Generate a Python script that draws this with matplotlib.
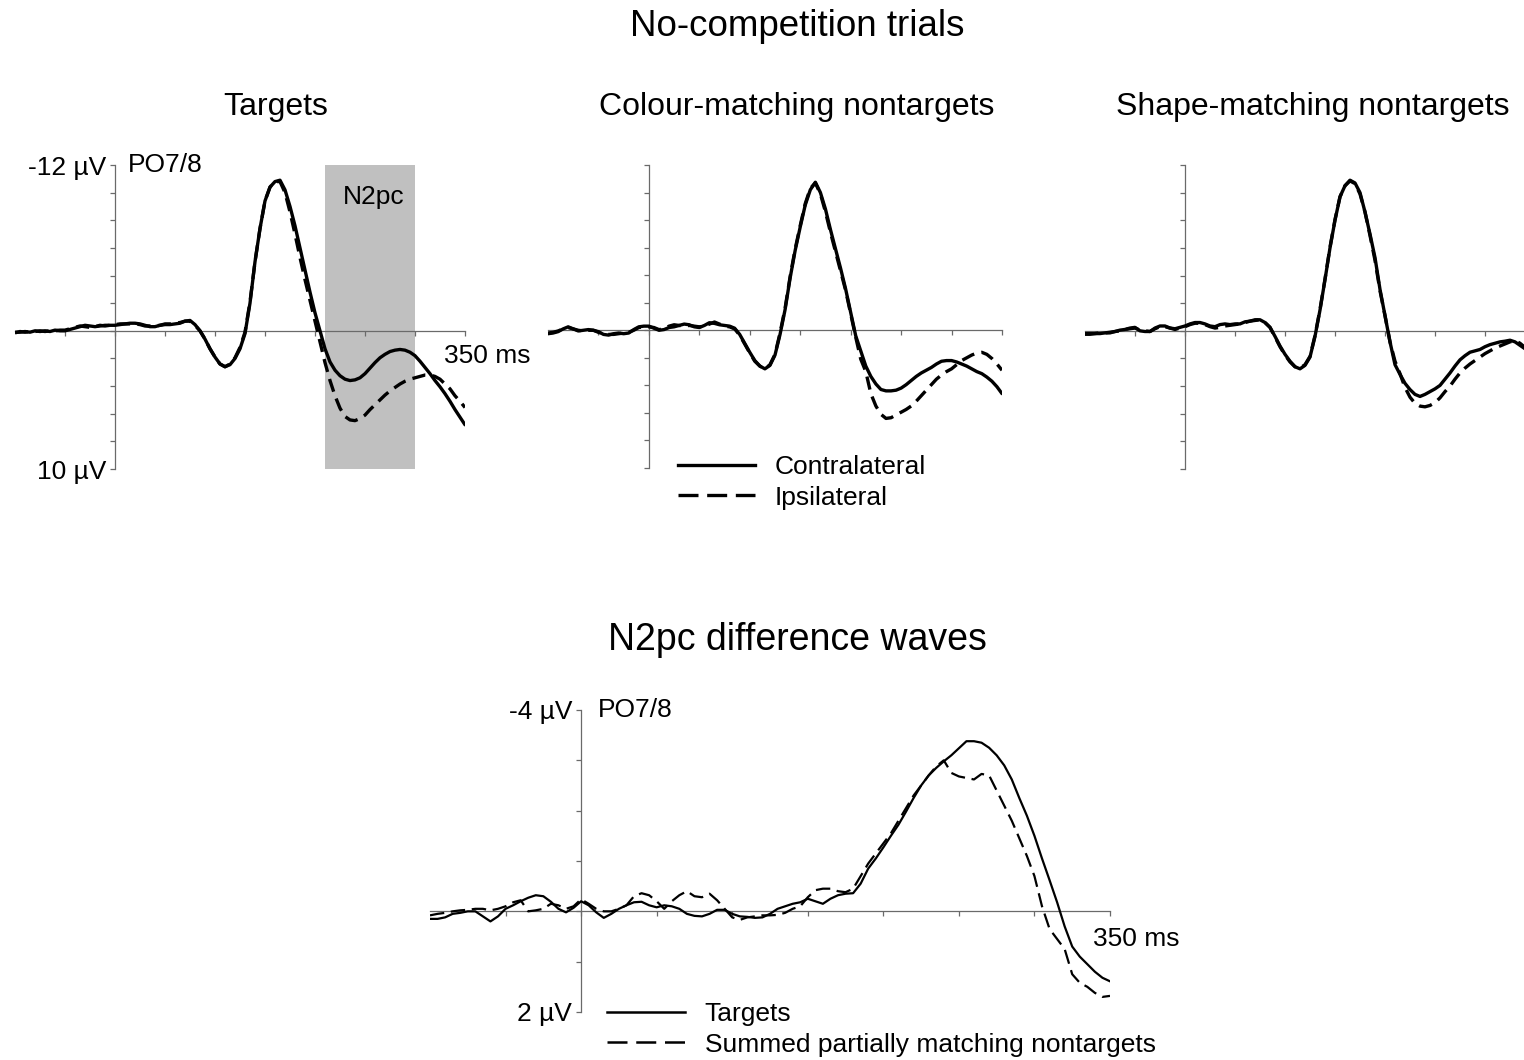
import numpy as np
import matplotlib
matplotlib.use("Agg")
import matplotlib.pyplot as plt
from matplotlib.lines import Line2D

# sampling grid shared by every waveform (ms, 5 ms steps)
TIME_MS = np.arange(-100, 351, 5)

# --- No-competition trials, PO7/8 (µV, negative up) ---
TARGETS_CONTRA = [
    0.1, 0.1, 0.05, 0.1, 0.0, 0.05, 0.0, 0.05, -0.05, 0.0,
    0.0, -0.1, -0.2, -0.3, -0.4, -0.35, -0.3, -0.35, -0.4, -0.4,
    -0.4, -0.45, -0.5, -0.55, -0.55, -0.5, -0.4, -0.3, -0.3, -0.4,
    -0.45, -0.45, -0.5, -0.55, -0.7, -0.75, -0.45, 0.0, 0.6, 1.3,
    1.9, 2.4, 2.6, 2.45, 2.0, 1.3, 0.2, -2.0, -5.0, -7.4,
    -9.4, -10.4, -10.8, -10.9, -10.2, -9.0, -7.6, -6.0, -4.4, -2.8,
    -1.3, 0.0, 1.3, 2.25, 2.85, 3.25, 3.5, 3.6, 3.55, 3.4,
    3.1, 2.7, 2.3, 1.95, 1.7, 1.5, 1.4, 1.35, 1.4, 1.55,
    1.8, 2.2, 2.65, 3.1, 3.6, 4.05, 4.55, 5.1, 5.7, 6.25,
    6.8,
]
TARGETS_IPSI = [
    0.15, 0.05, 0.1, 0.05, 0.05, 0.0, 0.05, 0.0, 0.0, -0.05,
    -0.05, -0.15, -0.25, -0.35, -0.3, -0.25, -0.3, -0.4, -0.35, -0.4,
    -0.45, -0.5, -0.5, -0.5, -0.5, -0.45, -0.35, -0.35, -0.35, -0.4,
    -0.5, -0.5, -0.55, -0.6, -0.7, -0.7, -0.4, 0.0, 0.6, 1.3,
    1.9, 2.4, 2.6, 2.4, 1.95, 1.2, 0.1, -2.1, -5.0, -7.4,
    -9.4, -10.4, -10.8, -10.8, -10.0, -8.6, -7.0, -5.3, -3.7, -2.2,
    -0.7, 0.8, 2.3, 3.6, 4.7, 5.6, 6.2, 6.45, 6.5, 6.35,
    6.1, 5.7, 5.35, 5.0, 4.65, 4.35, 4.1, 3.85, 3.65, 3.5,
    3.4, 3.3, 3.2, 3.2, 3.3, 3.5, 3.85, 4.2, 4.7, 5.1,
    5.55,
]
COLOUR_CONTRA = [
    0.25, 0.2, 0.1, -0.1, -0.25, -0.1, 0.05, 0.0, -0.05, 0.0,
    0.1, 0.3, 0.35, 0.25, 0.2, 0.25, 0.2, -0.05, -0.25, -0.3,
    -0.3, -0.15, 0.0, -0.05, -0.2, -0.25, -0.35, -0.45, -0.4, -0.25,
    -0.2, -0.35, -0.55, -0.5, -0.4, -0.35, -0.3, -0.15, 0.3, 0.95,
    1.6, 2.2, 2.6, 2.8, 2.55, 1.8, 0.3, -1.5, -3.8, -5.8,
    -7.5, -9.1, -10.2, -10.75, -10.0, -8.8, -7.3, -5.9, -4.5, -3.0,
    -1.3, 0.4, 1.5, 2.6, 3.35, 3.9, 4.3, 4.4, 4.4, 4.35,
    4.2, 3.95, 3.65, 3.35, 3.1, 2.9, 2.7, 2.45, 2.25, 2.2,
    2.2, 2.3, 2.45, 2.6, 2.8, 3.0, 3.15, 3.4, 3.7, 4.1,
    4.6,
]
COLOUR_IPSI = [
    0.2, 0.15, 0.05, -0.1, -0.2, -0.1, 0.0, 0.05, 0.0, 0.0,
    0.15, 0.25, 0.3, 0.3, 0.25, 0.2, 0.15, 0.0, -0.2, -0.25,
    -0.25, -0.2, -0.05, -0.1, -0.3, -0.4, -0.35, -0.3, -0.35, -0.3,
    -0.25, -0.3, -0.45, -0.6, -0.45, -0.3, -0.25, -0.1, 0.35, 1.0,
    1.65, 2.25, 2.6, 2.8, 2.5, 1.75, 0.2, -1.6, -3.9, -5.9,
    -7.6, -9.2, -10.3, -10.7, -9.9, -8.6, -7.1, -5.7, -4.3, -2.9,
    -1.2, 0.5, 2.1, 3.0, 4.6, 5.5, 6.1, 6.4, 6.35, 6.15,
    5.95, 5.75, 5.5, 5.15, 4.75, 4.35, 3.95, 3.55, 3.25, 3.0,
    2.8, 2.5, 2.2, 2.0, 1.8, 1.65, 1.6, 1.75, 2.05, 2.45,
    2.9,
]
SHAPE_CONTRA = [
    0.25, 0.25, 0.2, 0.2, 0.15, 0.15, 0.05, -0.05, -0.1, -0.2,
    -0.25, 0.0, 0.05, 0.05, -0.2, -0.35, -0.35, -0.2, -0.15, -0.25,
    -0.35, -0.5, -0.6, -0.6, -0.5, -0.35, -0.3, -0.45, -0.5, -0.45,
    -0.5, -0.5, -0.65, -0.7, -0.8, -0.8, -0.6, -0.25, 0.4, 1.1,
    1.7, 2.2, 2.6, 2.75, 2.5, 1.9, 0.4, -1.5, -3.7, -6.0,
    -8.0, -9.7, -10.5, -10.9, -10.7, -10.0, -8.6, -7.0, -5.3, -3.0,
    -1.1, 0.8, 2.45, 3.15, 3.8, 4.25, 4.6, 4.75, 4.6, 4.4,
    4.2, 3.95, 3.5, 3.05, 2.55, 2.1, 1.8, 1.55, 1.45, 1.35,
    1.15, 1.0, 0.9, 0.8, 0.75, 0.68, 0.8, 1.05, 1.3, 1.5,
    1.7,
]
SHAPE_IPSI = [
    0.2, 0.2, 0.2, 0.15, 0.15, 0.1, 0.05, 0.0, -0.1, -0.15,
    -0.2, -0.05, 0.0, 0.05, -0.15, -0.3, -0.3, -0.2, -0.1, -0.2,
    -0.3, -0.45, -0.55, -0.55, -0.45, -0.3, -0.2, -0.25, -0.35, -0.4,
    -0.45, -0.5, -0.6, -0.7, -0.75, -0.8, -0.6, -0.25, 0.45, 1.15,
    1.75, 2.25, 2.6, 2.7, 2.45, 1.85, 0.35, -1.55, -3.75, -6.05,
    -8.05, -9.7, -10.5, -10.85, -10.65, -9.9, -8.6, -6.9, -5.1, -2.9,
    -1.1, 0.8, 2.2, 3.1, 4.1, 4.8, 5.25, 5.45, 5.5, 5.4,
    5.2, 4.85, 4.4, 4.0, 3.5, 3.05, 2.7, 2.4, 2.15, 1.9,
    1.65, 1.45, 1.25, 1.1, 0.95, 0.8, 0.7, 0.9, 1.2, 1.5,
    1.7,
]

# --- N2pc difference waves (contra minus ipsi, µV) ---
DIFF_TARGETS = [
    0.15, 0.15, 0.12, 0.05, 0.03, 0.0, 0.0, 0.1, 0.2, 0.1,
    -0.05, -0.12, -0.2, -0.27, -0.32, -0.3, -0.19, -0.05, 0.02, -0.07,
    -0.2, -0.12, 0.02, 0.13, 0.05, -0.05, -0.12, -0.18, -0.19, -0.12,
    -0.08, -0.12, -0.1, -0.05, 0.05, 0.09, 0.1, 0.05, -0.03, -0.03,
    0.05, 0.1, 0.11, 0.13, 0.12, 0.05, -0.05, -0.1, -0.15, -0.18,
    -0.25, -0.2, -0.15, -0.25, -0.32, -0.35, -0.36, -0.55, -0.85, -1.05,
    -1.27, -1.5, -1.72, -1.98, -2.25, -2.5, -2.7, -2.85, -2.98, -3.1,
    -3.24, -3.38, -3.38, -3.35, -3.25, -3.1, -2.9, -2.62, -2.25, -1.9,
    -1.5, -1.05, -0.62, -0.18, 0.3, 0.7, 0.9, 1.05, 1.2, 1.32,
    1.39,
]
DIFF_SUMMED = [
    0.08, 0.05, 0.03, 0.0, -0.02, -0.03, -0.05, -0.05, -0.02, -0.05,
    -0.1, -0.18, -0.22, 0.0, -0.02, -0.05, -0.15, -0.12, -0.05, -0.1,
    -0.24, -0.15, -0.05, 0.0, 0.0, -0.05, -0.12, -0.3, -0.36, -0.32,
    -0.2, -0.05, -0.2, -0.32, -0.4, -0.3, -0.28, -0.35, -0.22, -0.05,
    0.12, 0.17, 0.12, 0.1, 0.08, 0.08, 0.07, 0.03, -0.05, -0.1,
    -0.28, -0.42, -0.45, -0.45, -0.4, -0.38, -0.45, -0.7, -0.95, -1.15,
    -1.35, -1.55, -1.8, -2.05, -2.3, -2.5, -2.7, -2.88, -3.0, -2.75,
    -2.68, -2.65, -2.62, -2.73, -2.7, -2.4, -2.1, -1.8, -1.45, -1.1,
    -0.7, -0.1, 0.35, 0.55, 0.75, 1.25, 1.42, 1.5, 1.62, 1.7,
    1.68,
]

PANEL_TITLES = ["Targets", "Colour-matching nontargets", "Shape-matching nontargets"]
TOP_YTICKS = list(range(-12, 11, 2))
BOTTOM_YTICKS = list(range(-4, 3, 1))
XTICKS = list(range(-50, 351, 50))
N2PC_WINDOW = (210, 300)

W, H = 1524, 1060
AXIS_GREY = "#6a6a6a"
FS = 19


def px_box(left, top, right, bottom):
    # pixel box -> figure fraction [l, b, w, h]
    return [left / W, 1 - bottom / H, (right - left) / W, (bottom - top) / H]


def erp_axes(fig, box, ylim, yticks, ylabels):
    ax = fig.add_axes(px_box(*box))
    ax.set_xlim(-100, 350)
    ax.set_ylim(ylim)
    for side in ("top", "right"):
        ax.spines[side].set_visible(False)
    ax.spines["left"].set_position(("data", 0))
    ax.spines["bottom"].set_position(("data", 0))
    for side in ("left", "bottom"):
        ax.spines[side].set_color(AXIS_GREY)
        ax.spines[side].set_linewidth(0.9)
    ax.set_xticks(XTICKS)
    ax.set_xticklabels([])
    ax.set_yticks(yticks)
    ax.set_yticklabels(ylabels)
    ax.tick_params(direction="out", length=3.5, width=0.9, color=AXIS_GREY,
                   labelsize=FS, pad=3)
    ax.patch.set_visible(False)
    return ax


def main():
    plt.rcParams["font.family"] = ["Liberation Sans", "DejaVu Sans"]
    fig = plt.figure(figsize=(W / 100, H / 100), dpi=100)

    solid = dict(color="black", lw=2.4, solid_capstyle="round")
    dashed = dict(color="black", lw=2.4, linestyle=(0, (4, 2.2)))

    top_boxes = [(15, 165, 465, 469), (548, 165, 1002, 468), (1085, 165, 1535, 469)]
    top_data = [(TARGETS_CONTRA, TARGETS_IPSI),
                (COLOUR_CONTRA, COLOUR_IPSI),
                (SHAPE_CONTRA, SHAPE_IPSI)]
    title_x = [276, 797, 1313]

    axes = []
    for i, (box, (contra, ipsi)) in enumerate(zip(top_boxes, top_data)):
        labels = [""] * len(TOP_YTICKS)
        if i == 0:
            labels[0], labels[-1] = "-12 µV", "10 µV"
        ax = erp_axes(fig, box, (10, -12), TOP_YTICKS, labels)
        ax.plot(TIME_MS, ipsi, **dashed, zorder=3)
        ax.plot(TIME_MS, contra, **solid, zorder=4)
        fig.text(title_x[i] / W, 1 - 107 / H, PANEL_TITLES[i],
                 ha="center", va="center", fontsize=23)
        axes.append(ax)

    # first panel annotations
    ax1 = axes[0]
    ax1.axvspan(*N2PC_WINDOW, color="#c0c0c0", lw=0, zorder=0)
    ax1.annotate("N2pc", xy=(np.mean(N2PC_WINDOW), -12), xytext=(3, -23),
                 textcoords="offset points", ha="center", va="center", fontsize=FS)
    ax1.annotate("PO7/8", xy=(0, -12), xytext=(9, 0), textcoords="offset points",
                 ha="left", va="center", fontsize=FS)
    ax1.annotate("350 ms", xy=(350, 0), xytext=(16, -18), textcoords="offset points",
                 ha="center", va="center", fontsize=FS)

    leg_handles = [Line2D([], [], color="black", lw=2.4),
                   Line2D([], [], color="black", lw=2.4, linestyle=(0, (6, 2.6)))]
    axes[1].legend(leg_handles, ["Contralateral", "Ipsilateral"], loc="upper left",
                   bbox_to_anchor=(678 / W, 1 - 455 / H), bbox_transform=fig.transFigure,
                   frameon=False, fontsize=FS, handlelength=2.9, handletextpad=0.75,
                   labelspacing=0.25, borderpad=0, borderaxespad=0)

    # bottom difference waves
    blabels = [""] * len(BOTTOM_YTICKS)
    blabels[0], blabels[-1] = "-4 µV", "2 µV"
    axb = erp_axes(fig, (430, 710, 1110, 1012), (2, -4), BOTTOM_YTICKS, blabels)
    axb.plot(TIME_MS, DIFF_SUMMED, color="black", lw=1.6, linestyle=(0, (6.5, 3)), zorder=3)
    axb.plot(TIME_MS, DIFF_TARGETS, color="black", lw=1.6, zorder=4)
    axb.annotate("PO7/8", xy=(0, -4), xytext=(12, 0), textcoords="offset points",
                 ha="left", va="center", fontsize=FS)
    axb.annotate("350 ms", xy=(350, 0), xytext=(19, -20), textcoords="offset points",
                 ha="center", va="center", fontsize=FS)
    bleg = [Line2D([], [], color="black", lw=1.8),
            Line2D([], [], color="black", lw=1.8, linestyle=(0, (8, 3.5)))]
    axb.legend(bleg, ["Targets", "Summed partially matching nontargets"], loc="upper left",
               bbox_to_anchor=(607 / W, 1 - 1002 / H), bbox_transform=fig.transFigure,
               frameon=False, fontsize=FS, handlelength=2.95, handletextpad=0.75,
               labelspacing=0.25, borderpad=0, borderaxespad=0)

    fig.text(797 / W, 1 - 27 / H, "No-competition trials", ha="center", va="center", fontsize=26.5)
    fig.text(797 / W, 1 - 640 / H, "N2pc difference waves", ha="center", va="center", fontsize=27)

    fig.savefig("out.png", dpi=100)
    plt.close(fig)


if __name__ == "__main__":
    main()
